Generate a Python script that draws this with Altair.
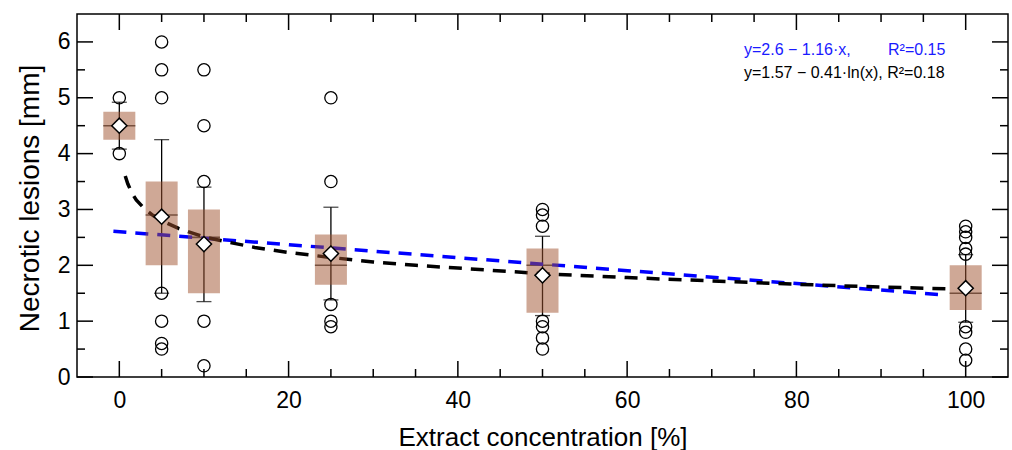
import altair as alt
import pandas as pd

# ---- data ----
conc = [0, 5, 10, 25, 50, 100]
q1 = [4.25, 2.0, 1.5, 1.65, 1.15, 1.2]
q3 = [4.75, 3.5, 3.0, 2.55, 2.3, 2.0]
median = [4.5, 2.9, 2.5, 2.0, 2.0, 1.5]
mean = [4.5, 2.87, 2.38, 2.21, 1.82, 1.59]
whisk_lo = [4.08, 1.5, 1.35, 1.38, 1.1, 0.98]
whisk_hi = [4.92, 4.25, 3.4, 3.04, 2.52, 2.19]

pt_conc = [0, 0,
           5, 5, 5, 5, 5, 5, 5,
           10, 10, 10, 10, 10,
           25, 25, 25, 25, 25,
           50, 50, 50, 50, 50, 50, 50,
           100, 100, 100, 100, 100, 100, 100, 100, 100]
pt_val = [5.0, 4.0,
          6.0, 5.5, 5.0, 1.5, 1.0, 0.6, 0.5,
          5.5, 4.5, 3.5, 1.0, 0.2,
          5.0, 3.5, 1.3, 1.0, 0.9,
          3.0, 2.9, 2.7, 1.0, 0.9, 0.7, 0.5,
          2.7, 2.6, 2.5, 2.3, 2.2, 0.9, 0.8, 0.5, 0.3]

lin_x = [-0.7, 97.0]
lin_y = [2.61, 1.475]
log_x = [0.7, 1, 1.5, 2, 3, 4, 5, 7, 10, 13, 16, 20, 25, 30, 35, 40, 50, 60, 70, 80, 90, 97.7]
log_y = [3.60, 3.46, 3.29, 3.17, 3.01, 2.89, 2.80, 2.66, 2.51, 2.41, 2.32, 2.23, 2.14,
         2.06, 2.00, 1.95, 1.85, 1.78, 1.72, 1.66, 1.61, 1.58]

x_major = [0, 20, 40, 60, 80, 100]
x_minor = [5, 10, 15, 25, 30, 35, 45, 50, 55, 65, 70, 75, 85, 90, 95]
y_major = [0, 1, 2, 3, 4, 5, 6]
y_minor = [0.5, 1.5, 2.5, 3.5, 4.5, 5.5]

ann_blue_1 = "y=2.6 − 1.16·x,"
ann_blue_2 = "R²=0.15"
ann_black = "y=1.57 − 0.41·ln(x), R²=0.18"

# ---- layout ----
W, H = 931, 363
FONT = "Liberation Sans"

xs = alt.Scale(domain=[-5, 105], nice=False, zero=False, padding=0)
ys = alt.Scale(domain=[0, 6.5], nice=False, zero=False, padding=0)
xaxis = alt.Axis(values=x_major, ticks=False, domain=False, grid=False,
                 labelFontSize=23, labelPadding=12, labelColor="black",
                 title="Extract concentration [%]", titleFontSize=26,
                 titleFontWeight="normal", titleColor="black",
                 titleY=68, titleBaseline="alphabetic")
yaxis = alt.Axis(values=y_major, ticks=False, domain=False, grid=False,
                 labelFontSize=23, labelPadding=7, labelColor="black", format="d",
                 title="Necrotic lesions [mm]", titleFontSize=28,
                 titleFontWeight="normal", titleColor="black",
                 titleX=-39, titleY=184, titleAngle=270,
                 titleAlign="center", titleBaseline="alphabetic")


def X(f):
    return alt.X(f, type="quantitative", scale=xs, axis=xaxis)


def Y(f):
    return alt.Y(f, type="quantitative", scale=ys, axis=yaxis)


stats = pd.DataFrame({"x": conc, "q1": q1, "q3": q3, "med": median,
                      "mean": mean, "lo": whisk_lo, "hi": whisk_hi})
pts = pd.DataFrame({"x": pt_conc, "y": pt_val})
lin = pd.DataFrame({"x": lin_x, "y": lin_y})
logd = pd.DataFrame({"x": log_x, "y": log_y})

whisker = alt.Chart(stats).mark_rule(color="black", strokeWidth=1.3).encode(
    x=X("x"), y=Y("lo"), y2="hi")
med_line = alt.Chart(stats).mark_tick(orient="horizontal", size=32, thickness=1.6,
                                      color="black").encode(x=X("x"), y=Y("med"))
blue_line = alt.Chart(lin).mark_line(color="#0000FF", strokeWidth=3.5,
                                     strokeDash=[13, 9]).encode(x=X("x"), y=Y("y"))
black_line = alt.Chart(logd).mark_line(color="black", strokeWidth=3.5,
                                       strokeDash=[13, 9]).encode(x=X("x"), y=Y("y"))
box = alt.Chart(stats).mark_bar(size=32, color="#A0522D", opacity=0.5).encode(
    x=X("x"), y=Y("q1"), y2="q3")
cap_lo = alt.Chart(stats).mark_tick(orient="horizontal", size=15, thickness=1.3,
                                    color="black").encode(x=X("x"), y=Y("lo"))
cap_hi = alt.Chart(stats).mark_tick(orient="horizontal", size=15, thickness=1.3,
                                    color="black").encode(x=X("x"), y=Y("hi"))
circles = alt.Chart(pts).mark_point(shape="circle", filled=False, color="black",
                                    strokeWidth=1.3, size=150, opacity=1).encode(
    x=X("x"), y=Y("y"))
diamonds = alt.Chart(stats).mark_point(shape="diamond", filled=True, fill="white",
                                       stroke="black", strokeWidth=1.5, size=230,
                                       opacity=1).encode(x=X("x"), y=Y("mean"))

# inward frame ticks
ymaj = pd.DataFrame({"v": y_major})
ymin = pd.DataFrame({"v": y_minor})
xmaj = pd.DataFrame({"v": x_major})
xmin = pd.DataFrame({"v": x_minor})
tk = dict(color="black", strokeWidth=1.5)
ticks = [
    alt.Chart(ymaj).mark_rule(**tk).encode(y=Y("v"), x=alt.value(0), x2=alt.value(16)),
    alt.Chart(ymin).mark_rule(**tk).encode(y=Y("v"), x=alt.value(0), x2=alt.value(8)),
    alt.Chart(ymaj).mark_rule(**tk).encode(y=Y("v"), x=alt.value(W), x2=alt.value(W - 16)),
    alt.Chart(ymin).mark_rule(**tk).encode(y=Y("v"), x=alt.value(W), x2=alt.value(W - 8)),
    alt.Chart(xmaj).mark_rule(**tk).encode(x=X("v"), y=alt.value(H), y2=alt.value(H - 16)),
    alt.Chart(xmin).mark_rule(**tk).encode(x=X("v"), y=alt.value(H), y2=alt.value(H - 8)),
    alt.Chart(xmaj).mark_rule(**tk).encode(x=X("v"), y=alt.value(0), y2=alt.value(16)),
    alt.Chart(xmin).mark_rule(**tk).encode(x=X("v"), y=alt.value(0), y2=alt.value(8)),
]

one = pd.DataFrame({"a": [0]})
txt = dict(font=FONT, fontSize=16, align="left", baseline="middle")
t1 = alt.Chart(one).mark_text(color="#1a1aff", **txt).encode(
    x=alt.value(667), y=alt.value(36), text=alt.value(ann_blue_1))
t2 = alt.Chart(one).mark_text(color="#1a1aff", **txt).encode(
    x=alt.value(811), y=alt.value(36), text=alt.value(ann_blue_2))
t3 = alt.Chart(one).mark_text(color="black", **txt).encode(
    x=alt.value(667), y=alt.value(59), text=alt.value(ann_black))

chart = alt.layer(
    whisker, med_line, blue_line, black_line, box, cap_lo, cap_hi,
    circles, diamonds, *ticks, t1, t2, t3
).properties(
    width=W, height=H,
    autosize=alt.AutoSizeParams(type="none"),
    padding={"left": 77, "top": 14, "right": 4, "bottom": 73},
).configure(font=FONT).configure_view(
    stroke="black", strokeWidth=1.5
).configure_axis(labelFont=FONT, titleFont=FONT)

chart.save("out.html", embed_options={"renderer": "svg", "actions": False})
